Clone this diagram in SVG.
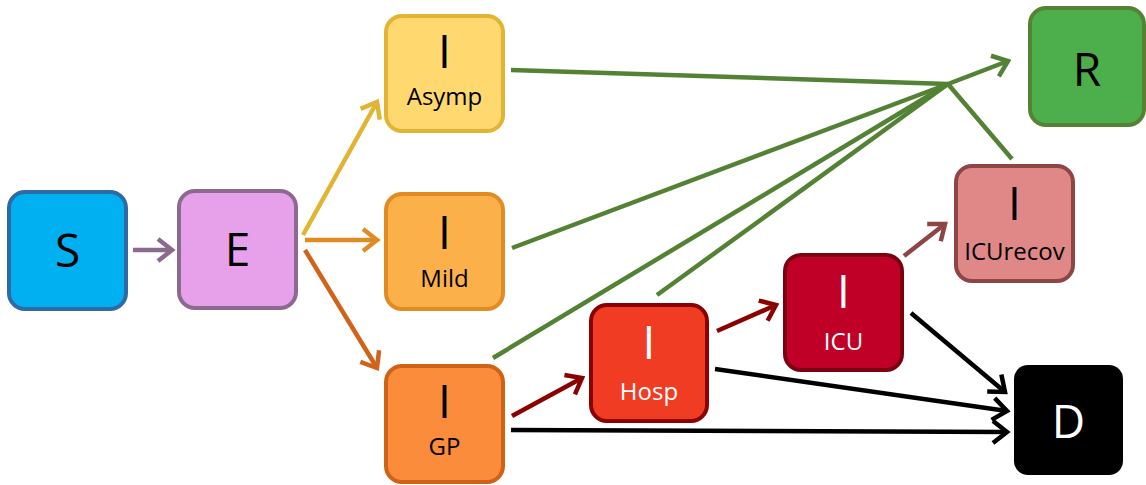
<svg xmlns="http://www.w3.org/2000/svg" width="1146" height="485" viewBox="0 0 1146 485">
<style>
.box{stroke-width:4}
.big{font-family:"Open Sans","Liberation Sans",sans-serif;font-size:46px;text-anchor:middle}
.sub{font-family:"Open Sans","Liberation Sans",sans-serif;font-size:24px;text-anchor:middle}
.c line{stroke-width:4.5;fill:none}
</style>
<defs>
<marker id="m-pur" viewBox="-20 -15 24 30" markerWidth="24" markerHeight="30" refX="0" refY="0" orient="auto" markerUnits="userSpaceOnUse"><path d="M-14,-11 L0,0 L-14,11" fill="none" stroke="#8c6a8f" stroke-width="4.5"/></marker>
<marker id="m-yel" viewBox="-20 -15 24 30" markerWidth="24" markerHeight="30" refX="0" refY="0" orient="auto" markerUnits="userSpaceOnUse"><path d="M-14,-11 L0,0 L-14,11" fill="none" stroke="#e2b433" stroke-width="4.5"/></marker>
<marker id="m-org" viewBox="-20 -15 24 30" markerWidth="24" markerHeight="30" refX="0" refY="0" orient="auto" markerUnits="userSpaceOnUse"><path d="M-14,-11 L0,0 L-14,11" fill="none" stroke="#e08c22" stroke-width="4.5"/></marker>
<marker id="m-dor" viewBox="-20 -15 24 30" markerWidth="24" markerHeight="30" refX="0" refY="0" orient="auto" markerUnits="userSpaceOnUse"><path d="M-14,-11 L0,0 L-14,11" fill="none" stroke="#d0621a" stroke-width="4.5"/></marker>
<marker id="m-red" viewBox="-20 -15 24 30" markerWidth="24" markerHeight="30" refX="0" refY="0" orient="auto" markerUnits="userSpaceOnUse"><path d="M-14,-11 L0,0 L-14,11" fill="none" stroke="#8b0000" stroke-width="4.5"/></marker>
<marker id="m-ros" viewBox="-20 -15 24 30" markerWidth="24" markerHeight="30" refX="0" refY="0" orient="auto" markerUnits="userSpaceOnUse"><path d="M-14,-11 L0,0 L-14,11" fill="none" stroke="#8d4546" stroke-width="4.5"/></marker>
<marker id="m-grn" viewBox="-20 -15 24 30" markerWidth="24" markerHeight="30" refX="0" refY="0" orient="auto" markerUnits="userSpaceOnUse"><path d="M-14,-11 L0,0 L-14,11" fill="none" stroke="#548235" stroke-width="4.5"/></marker>
<marker id="m-blk" viewBox="-20 -15 24 30" markerWidth="24" markerHeight="30" refX="0" refY="0" orient="auto" markerUnits="userSpaceOnUse"><path d="M-14,-11 L0,0 L-14,11" fill="none" stroke="#000" stroke-width="4.5"/></marker>
</defs>
<g class="c" id="connectors">
<line x1="133" y1="250" x2="172" y2="250" stroke="#8c6a8f" marker-end="url(#m-pur)"/>
<line x1="303" y1="235" x2="377" y2="102" stroke="#e2b433" marker-end="url(#m-yel)"/>
<line x1="305" y1="240" x2="377" y2="240" stroke="#e08c22" marker-end="url(#m-org)"/>
<line x1="305" y1="250" x2="377" y2="368" stroke="#d0621a" marker-end="url(#m-dor)"/>
<line x1="511" y1="70" x2="948" y2="84" stroke="#548235"/>
<line x1="512" y1="248" x2="948" y2="84" stroke="#548235"/>
<line x1="493" y1="358" x2="948" y2="84" stroke="#548235"/>
<line x1="657" y1="295" x2="948" y2="84" stroke="#548235"/>
<line x1="1012" y1="159" x2="948" y2="84" stroke="#548235"/>
<line x1="948" y1="84" x2="1008" y2="61" stroke="#548235" marker-end="url(#m-grn)"/>
<line x1="512" y1="416" x2="582" y2="378" stroke="#8b0000" marker-end="url(#m-red)"/>
<line x1="717" y1="331" x2="776" y2="305" stroke="#8b0000" marker-end="url(#m-red)"/>
<line x1="904" y1="256" x2="945" y2="224" stroke="#8d4546" marker-end="url(#m-ros)"/>
<line x1="911" y1="313" x2="1005" y2="392" stroke="#000" marker-end="url(#m-blk)"/>
<line x1="715" y1="369" x2="1007" y2="411" stroke="#000" marker-end="url(#m-blk)"/>
<line x1="511" y1="430" x2="1007" y2="432" stroke="#000" marker-end="url(#m-blk)"/>
</g>
<g id="S"><rect class="box" x="9" y="192" width="117" height="117" rx="16" fill="#00b0f0" stroke="#2e6aa6"/><text class="big" x="67.5" y="267">S</text></g>
<g id="E"><rect class="box" x="179" y="191" width="117" height="117" rx="16" fill="#e6a1ea" stroke="#8c6a8f"/><text class="big" x="237.5" y="266">E</text></g>
<g id="IAsymp"><rect class="box" x="386" y="16" width="117" height="115" rx="16" fill="#ffd970" stroke="#e2b433"/><text class="big" x="444.5" y="68">I</text><text class="sub" x="444.5" y="105">Asymp</text></g>
<g id="IMild"><rect class="box" x="386" y="194" width="117" height="115" rx="16" fill="#fbb04a" stroke="#e08c22"/><text class="big" x="444.5" y="249">I</text><text class="sub" x="444.5" y="287">Mild</text></g>
<g id="IGP"><rect class="box" x="386" y="366" width="117" height="116" rx="16" fill="#fa8c3c" stroke="#cf6214"/><text class="big" x="444.5" y="418">I</text><text class="sub" x="444.5" y="455">GP</text></g>
<g id="IHosp"><rect class="box" x="591" y="305" width="116" height="116" rx="16" fill="#f03c23" stroke="#8b0000"/><text class="big" x="649" y="359" fill="#fff">I</text><text class="sub" x="649" y="400" fill="#fff">Hosp</text></g>
<g id="IICU"><rect class="box" x="785" y="255" width="117" height="115" rx="16" fill="#c00026" stroke="#7c0010"/><text class="big" x="843.5" y="308" fill="#fff">I</text><text class="sub" x="843.5" y="350" fill="#fff">ICU</text></g>
<g id="IICUrecov"><rect class="box" x="956" y="166" width="117" height="115" rx="16" fill="#e08888" stroke="#8d4546"/><text class="big" x="1014.5" y="220">I</text><text class="sub" x="1014.5" y="260">ICUrecov</text></g>
<g id="R"><rect class="box" x="1030" y="8" width="114" height="117" rx="16" fill="#4caf4c" stroke="#558235"/><text class="big" x="1087" y="86">R</text></g>
<g id="D"><rect x="1014" y="365" width="109" height="110" rx="14" fill="#000"/><text class="big" x="1068.5" y="438" fill="#fff">D</text></g>
</svg>
